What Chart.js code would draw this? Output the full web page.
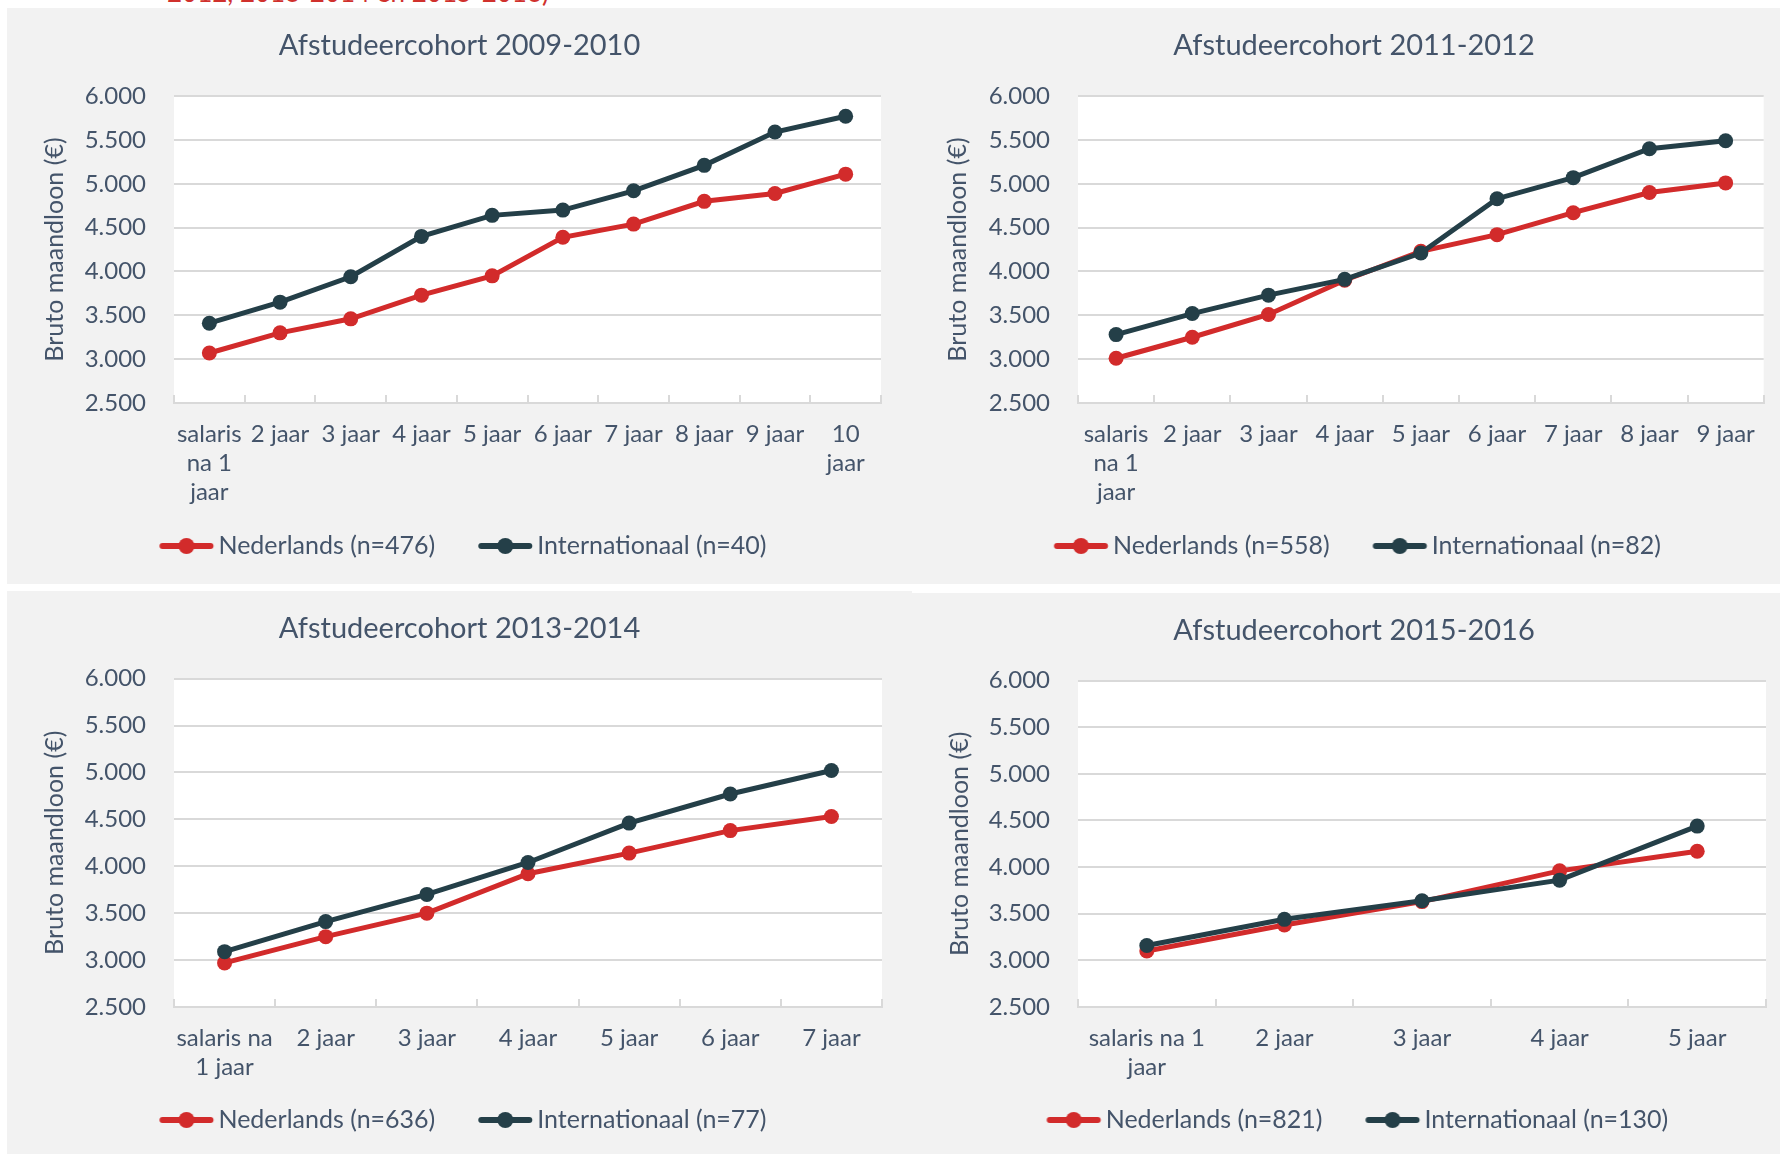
<!DOCTYPE html>
<html>
<head>
<meta charset="utf-8">
<script src="https://cdn.jsdelivr.net/npm/chart.js@4/dist/chart.umd.min.js"></script>
<style>
  body { margin: 0; background: #ffffff; width: 1780px; height: 1154px; overflow: hidden; position: relative; }
  .panel { position: absolute; background: #f2f2f2; }
  .panel canvas { display: block; }
  #caption { position: absolute; left: 167px; top: -21px; font: 26px Lato, sans-serif; line-height: 26px; color: #d0312d; white-space: nowrap; }
</style>
</head>
<body>
<div id="caption">2012, 2013-2014 en 2015-2016)</div>
<div class="panel" style="left:7px;top:8px;"><canvas id="c1" width="905" height="576"></canvas></div>
<div class="panel" style="left:912px;top:8px;"><canvas id="c2" width="868" height="576"></canvas></div>
<div class="panel" style="left:7px;top:591px;"><canvas id="c3" width="905" height="563"></canvas></div>
<div class="panel" style="left:912px;top:593px;"><canvas id="c4" width="868" height="561"></canvas></div>
<script>
// data
var titles = ['Afstudeercohort 2009-2010', 'Afstudeercohort 2011-2012', 'Afstudeercohort 2013-2014', 'Afstudeercohort 2015-2016'];

var labels0910 = [['salaris', 'na 1', 'jaar'], '2 jaar', '3 jaar', '4 jaar', '5 jaar', '6 jaar', '7 jaar', '8 jaar', '9 jaar', ['10', 'jaar']];
var nl0910 = [3070, 3300, 3460, 3730, 3950, 4390, 4540, 4800, 4890, 5110];
var int0910 = [3410, 3650, 3940, 4400, 4640, 4700, 4920, 5210, 5590, 5770];

var labels1112 = [['salaris', 'na 1', 'jaar'], '2 jaar', '3 jaar', '4 jaar', '5 jaar', '6 jaar', '7 jaar', '8 jaar', '9 jaar'];
var nl1112 = [3010, 3250, 3510, 3900, 4230, 4420, 4670, 4900, 5010];
var int1112 = [3280, 3520, 3730, 3910, 4210, 4830, 5070, 5400, 5490];

var labels1314 = [['salaris na', '1 jaar'], '2 jaar', '3 jaar', '4 jaar', '5 jaar', '6 jaar', '7 jaar'];
var nl1314 = [2970, 3250, 3500, 3920, 4140, 4380, 4530];
var int1314 = [3090, 3410, 3700, 4040, 4460, 4770, 5020];

var labels1516 = [['salaris na 1', 'jaar'], '2 jaar', '3 jaar', '4 jaar', '5 jaar'];
var nl1516 = [3100, 3380, 3630, 3960, 4170];
var int1516 = [3160, 3440, 3640, 3860, 4440];

var legendNL = ['Nederlands (n=476)', 'Nederlands (n=558)', 'Nederlands (n=636)', 'Nederlands (n=821)'];
var legendINT = ['Internationaal (n=40)', 'Internationaal (n=82)', 'Internationaal (n=77)', 'Internationaal (n=130)'];

var yTicks = [2500, 3000, 3500, 4000, 4500, 5000, 5500, 6000];

var RED = '#d22b2b';
var DARK = '#243f48';
var TEXT = '#44546a';
var GRID = '#d9d9d9';
var FONT = 'Lato, "Open Sans", sans-serif';

function fmt(v) {
  return String(Math.round(v)).replace(/\B(?=(\d{3})+(?!\d))/g, '.');
}

// legend marker: line with a dot, drawn to the right side of a wider canvas
function legendIcon(color) {
  var c = document.createElement('canvas');
  c.width = 100; c.height = 20;
  var g = c.getContext('2d');
  var a = 38.25;
  g.strokeStyle = color;
  g.lineWidth = 6;
  g.lineCap = 'round';
  g.beginPath(); g.moveTo(a + 3, 10); g.lineTo(a + 51, 10); g.stroke();
  g.fillStyle = color;
  g.beginPath(); g.arc(a + 27, 10, 8, 0, Math.PI * 2); g.fill();
  return c;
}

var plotBg = {
  id: 'plotBg',
  beforeDraw: function(chart) {
    var a = chart.chartArea, ctx = chart.ctx;
    ctx.save();
    ctx.fillStyle = '#ffffff';
    ctx.fillRect(a.left, a.top, a.right - a.left, a.bottom - a.top);
    ctx.restore();
  }
};

// the marker canvas leaves blank room on the left, so pull the legend back
var legendShift = {
  id: 'legendShift',
  afterLayout: function(chart) {
    chart.legend.left -= 8;
    chart.legend.right -= 8;
  }
};

function makeChart(id, title, labels, nl, intl, nameNL, nameINT, L) {
  return new Chart(document.getElementById(id), {
    type: 'line',
    data: {
      labels: labels,
      datasets: [
        { label: nameNL, data: nl, borderColor: RED, backgroundColor: RED, order: 1 },
        { label: nameINT, data: intl, borderColor: DARK, backgroundColor: DARK, order: 0 }
      ]
    },
    options: {
      responsive: false,
      animation: false,
      devicePixelRatio: 1,
      layout: { padding: { left: L.padL, right: L.padR, top: 0, bottom: L.padB } },
      elements: {
        line: { borderWidth: 5, tension: 0 },
        point: { radius: 7.5, borderWidth: 0, pointStyle: 'circle' }
      },
      scales: {
        x: {
          offset: true,
          grid: { display: true, offset: true, drawOnChartArea: false, drawTicks: true, tickLength: -8, color: GRID, lineWidth: 2 },
          border: { display: true, color: GRID, width: 2 },
          ticks: { color: TEXT, font: { family: FONT, size: 24, lineHeight: 1.22 }, padding: 24.4, autoSkip: false, maxRotation: 0 },
          afterFit: function(s) { s.height = L.xHeight; }
        },
        y: {
          min: 2500,
          max: 6000,
          afterBuildTicks: function(s) { s.ticks = yTicks.map(function(v) { return { value: v }; }); },
          grid: { color: GRID, lineWidth: 2, drawTicks: false },
          border: { display: false },
          ticks: { color: TEXT, font: { family: FONT, size: 24 }, padding: 28, callback: fmt },
          title: { display: true, text: 'Bruto maandloon (€)', color: TEXT, font: { family: FONT, size: 25 }, padding: { top: L.yTitlePad, bottom: 0 } },
          afterFit: function(s) { s.width = L.yWidth; }
        }
      },
      plugins: {
        title: {
          display: true,
          text: title,
          color: TEXT,
          font: { family: FONT, size: 29, weight: 'normal' },
          padding: { top: 20.6, bottom: L.titleB }
        },
        legend: {
          position: 'bottom',
          labels: {
            color: TEXT,
            font: { family: FONT, size: 25 },
            usePointStyle: true,
            pointStyleWidth: 69.5,
            padding: 20,
            generateLabels: function(chart) {
              var items = Chart.defaults.plugins.legend.labels.generateLabels(chart);
              items.sort(function(a, b) { return a.datasetIndex - b.datasetIndex; });
              items.forEach(function(it) {
                it.pointStyle = legendIcon(chart.data.datasets[it.datasetIndex].borderColor);
              });
              return items;
            }
          }
        },
        tooltip: { enabled: false }
      }
    },
    plugins: [plotBg, legendShift]
  });
}

makeChart('c1', titles[0], labels0910, nl0910, int0910, legendNL[0], legendINT[0],
  { padL: 31, padR: 31, padB: 15.5, yWidth: 136, yTitlePad: 1.5, xHeight: 110.5, titleB: 32.7 });
makeChart('c2', titles[1], labels1112, nl1112, int1112, legendNL[1], legendINT[1],
  { padL: 30, padR: 14, padB: 15.5, yWidth: 136, yTitlePad: 1, xHeight: 110.5, titleB: 32.7 });
makeChart('c3', titles[2], labels1314, nl1314, int1314, legendNL[2], legendINT[2],
  { padL: 30, padR: 30, padB: 11.5, yWidth: 137, yTitlePad: 2.5, xHeight: 80.5, titleB: 32.2 });
makeChart('c4', titles[3], labels1516, nl1516, int1516, legendNL[3], legendINT[3],
  { padL: 30, padR: 14, padB: 11.5, yWidth: 136, yTitlePad: 2.8, xHeight: 80.5, titleB: 32.2 });
</script>
</body>
</html>
